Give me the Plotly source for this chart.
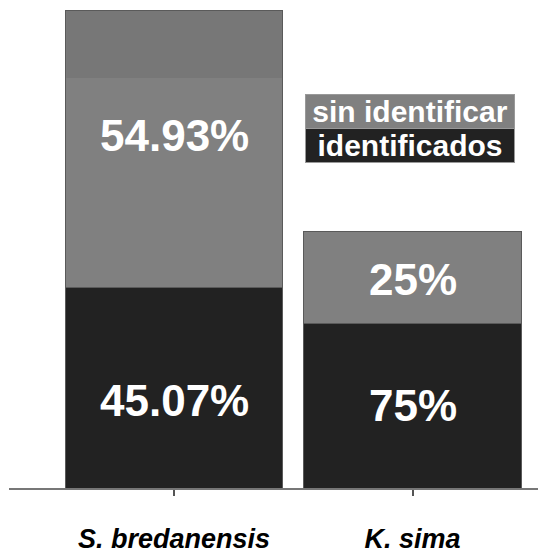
import plotly.graph_objects as go

categories = ["S. bredanensis", "K. sima"]
tick_labels = ["<b><i>S. bredanensis</i></b>", "<b><i>K. sima</i></b>"]
identificados = [201, 165]
sin_identificar = [277, 92]
label_identificados = ["45.07%", "75%"]
label_sin_identificar = ["54.93%", "25%"]

BLACK = "#222222"
GREY = "#808080"
BAND = "#777777"
EDGE = "#5a5a5a"
FONT = "Liberation Sans, Arial, sans-serif"
BARGAP = 0.088

# pixel nudges for the percentage labels (style only)
shift_identificados = [-13, 0]
shift_sin_identificar = [13, -2]

fig = go.Figure()
fig.add_trace(go.Bar(
    x=categories, y=identificados, name="identificados",
    marker=dict(color=BLACK, line=dict(color=EDGE, width=1)),
))
fig.add_trace(go.Bar(
    x=categories, y=sin_identificar, name="sin identificar",
    marker=dict(color=GREY, line=dict(color=EDGE, width=1)),
))

totals = [a + b for a, b in zip(identificados, sin_identificar)]
total_max = max(totals)

label_font = dict(family=FONT, size=44, color="white")
for i, cat in enumerate(categories):
    fig.add_annotation(
        x=cat, y=identificados[i] / 2, text="<b>" + label_identificados[i] + "</b>",
        showarrow=False, font=label_font, yshift=shift_identificados[i],
    )
    fig.add_annotation(
        x=cat, y=identificados[i] + sin_identificar[i] / 2,
        text="<b>" + label_sin_identificar[i] + "</b>",
        showarrow=False, font=label_font, yshift=shift_sin_identificar[i],
    )

# slightly darker scan band at the top of the first bar
half = (1 - BARGAP) / 2
fig.add_shape(
    type="rect", xref="x", yref="y", layer="above",
    x0=0 - half + 0.004, x1=0 + half - 0.004,
    y0=totals[0] - 68, y1=totals[0] - 1,
    fillcolor=BAND, line=dict(width=0),
)

fig.update_layout(
    barmode="stack",
    bargap=BARGAP,
    width=546, height=554,
    margin=dict(l=1, r=0, t=2, b=74),
    paper_bgcolor="white", plot_bgcolor="white",
    showlegend=False,
    font=dict(family=FONT),
    xaxis=dict(
        range=[-0.692, 1.593],
        tickvals=categories, ticktext=tick_labels,
        showline=True, linecolor="#777777", linewidth=2,
        ticks="outside", ticklen=6, tickwidth=2, tickcolor="#555555",
        tickfont=dict(family=FONT, size=27, color="black"),
        ticklabelstandoff=20,
        showgrid=False, zeroline=False,
    ),
    yaxis=dict(
        range=[0, total_max], visible=False, showgrid=False, zeroline=False,
    ),
)

legend_items = [("sin identificar", GREY, 0.7877), ("identificados", BLACK, 0.7165)]
for text, col, yp in legend_items:
    fig.add_annotation(
        xref="paper", yref="paper", x=0.7358, y=yp,
        text="<b>" + text + "</b>", showarrow=False,
        font=dict(family=FONT, size=30, color="white"),
        bgcolor=col, bordercolor="#999999", borderwidth=1, borderpad=0,
        width=208, height=33, align="center", valign="middle",
        xanchor="center", yanchor="middle",
    )

fig.write_html("out.html")
